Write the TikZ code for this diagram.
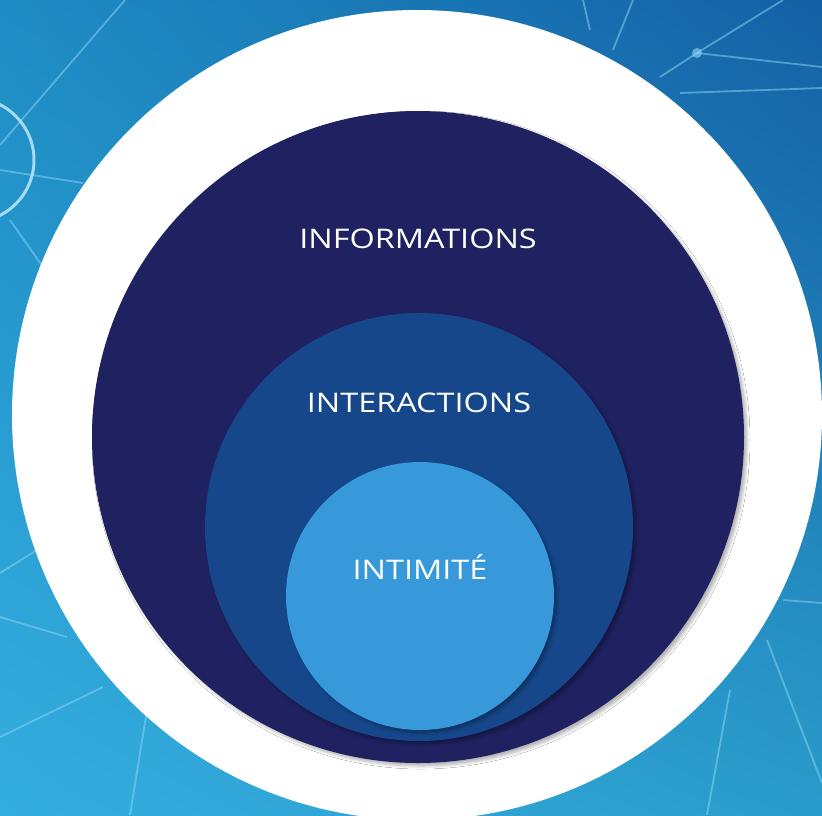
\documentclass[tikz,border=0pt]{standalone}
\usepackage{fontspec}
\setmainfont{Open Sans}
\newfontfamily\lblfont[FakeStretch=1.2]{Open Sans}
\usetikzlibrary{shadings,shadows.blur,positioning}

\definecolor{bgtl}{HTML}{1E8CC4}
\definecolor{bgtr}{HTML}{1460A4}
\definecolor{bgbl}{HTML}{34AEDF}
\definecolor{bgbr}{HTML}{2A9CCB}
\definecolor{infocol}{HTML}{1F2160}
\definecolor{intercol}{HTML}{15478A}
\definecolor{intimcol}{HTML}{3799DA}
\definecolor{netline}{HTML}{8FD8F5}

\begin{document}
\begin{tikzpicture}[x=1pt,y=-1pt]
\tikzstyle{ring}=[circle,inner sep=0pt,draw=none,blur shadow={shadow xshift=3pt,shadow yshift=-3pt,shadow blur steps=5,shadow blur radius=3pt,shadow opacity=30}]
\tikzstyle{lbl}=[text=white,font=\lblfont\fontsize{27}{32}\selectfont,anchor=base]
\tikzstyle{net}=[netline,line width=1.8pt,opacity=0.5]
% background
\useasboundingbox (0,0) rectangle (822,815);
\shade[upper left=bgtl,upper right=bgtr,lower left=bgbl,lower right=bgbr] (0,0) rectangle (822,815);
\draw[net] (0,145) -- (125,0);
\draw[net] (0,170) -- (83,183);
\draw[net] (10,220) -- (43,267);
\draw[net] (583,0) -- (590,30);
\draw[net] (633,0) -- (613,50);
\draw[net] (660,77) -- (697,53) -- (783,0);
\draw[net] (697,53) -- (822,67);
\draw[net] (680,93) -- (822,88);
\fill[netline,opacity=0.6] (697,53) circle (5pt);
\draw[net] (0,573) -- (37,550);
\draw[net] (0,617) -- (67,637);
\draw[net] (0,737) -- (103,687);
\draw[net] (147,710) -- (130,815);
\draw[net] (767,640) -- (822,783);
\draw[net] (730,690) -- (707,815);
\draw[net] (783,600) -- (822,603);
\draw[netline!70!white,line width=3pt,opacity=0.9] (-28,160) circle (62pt);
% circles
\fill[white] (417,415) circle (405pt);
\node[ring,fill=infocol,minimum size=652pt] (info) at (418,437) {};
\node[ring,fill=intercol,minimum size=428pt] (inter) at (419,527) {};
\node[ring,fill=intimcol,minimum size=268pt] (intim) at (420,596) {};
% labels
\node[lbl] (infolbl) at ([yshift=-138pt]info.north) {INFORMATIONS};
\node[lbl] (interlbl) at ([yshift=-100pt]inter.north) {INTERACTIONS};
\node[lbl] (intimlbl) at ([yshift=-118pt]intim.north) {INTIMITÉ};
\end{tikzpicture}
\end{document}
